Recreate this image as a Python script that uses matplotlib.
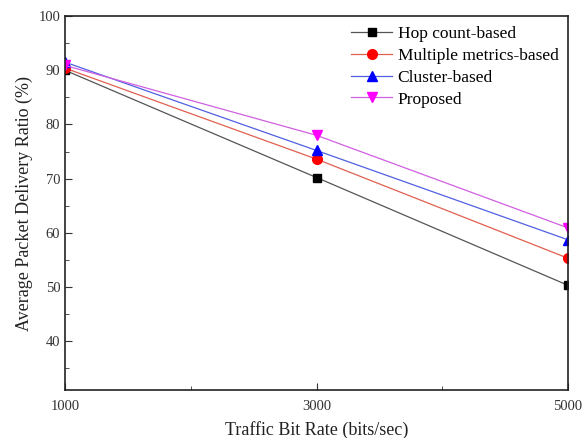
import matplotlib
matplotlib.use("Agg")
import matplotlib.pyplot as plt
from matplotlib.ticker import MultipleLocator

plt.rcParams['font.family'] = ['Liberation Serif', 'DejaVu Serif']

rates = [1000, 3000, 5000]
hop = [90.0, 70.2, 50.3]
multi = [90.4, 73.6, 55.3]
cluster = [91.5, 75.2, 58.7]
proposed = [90.9, 78.0, 60.9]

fig = plt.figure(figsize=(5.82, 4.38), dpi=100)
ax = fig.add_axes([0.112, 0.11, 0.864, 0.853])

ax.plot(rates, hop, color='#555555', lw=0.9, marker='s', ms=6, mfc='black', mec='black', label='Hop count-based')
ax.plot(rates, multi, color='#e06050', lw=0.9, marker='o', ms=7, mfc='red', mec='red', label='Multiple metrics-based')
ax.plot(rates, cluster, color='#5060e0', lw=0.9, marker='^', ms=7, mfc='blue', mec='blue', label='Cluster-based')
ax.plot(rates, proposed, color='#d060e0', lw=0.9, marker='v', ms=7, mfc='magenta', mec='magenta', label='Proposed')

ax.set_xlim(1000, 5000)
ax.set_ylim(31, 100)
ax.set_xticks(rates)
ax.xaxis.set_minor_locator(MultipleLocator(1000))
ax.yaxis.set_minor_locator(MultipleLocator(5))
ax.set_yticks([40, 50, 60, 70, 80, 90, 100])
ax.tick_params(which='both', direction='in', top=False, right=False, labelsize=10.5, colors='#333333')
ax.tick_params(which='major', length=5)
ax.tick_params(which='minor', length=3)
ax.tick_params(axis='x', pad=7)
for s in ax.spines.values():
    s.set_linewidth(1.2)
    s.set_color('#222222')

ax.set_xlabel('Traffic Bit Rate (bits/sec)', fontsize=13, labelpad=6, color='#222222')
ax.set_ylabel('Average Packet Delivery Ratio (%)', fontsize=13, color='#222222')
ax.legend(loc='upper right', frameon=False, fontsize=12.5, handlelength=2.4,
          borderaxespad=0.15, labelspacing=0.33, handletextpad=0.3)

fig.savefig('out.png', dpi=100)
